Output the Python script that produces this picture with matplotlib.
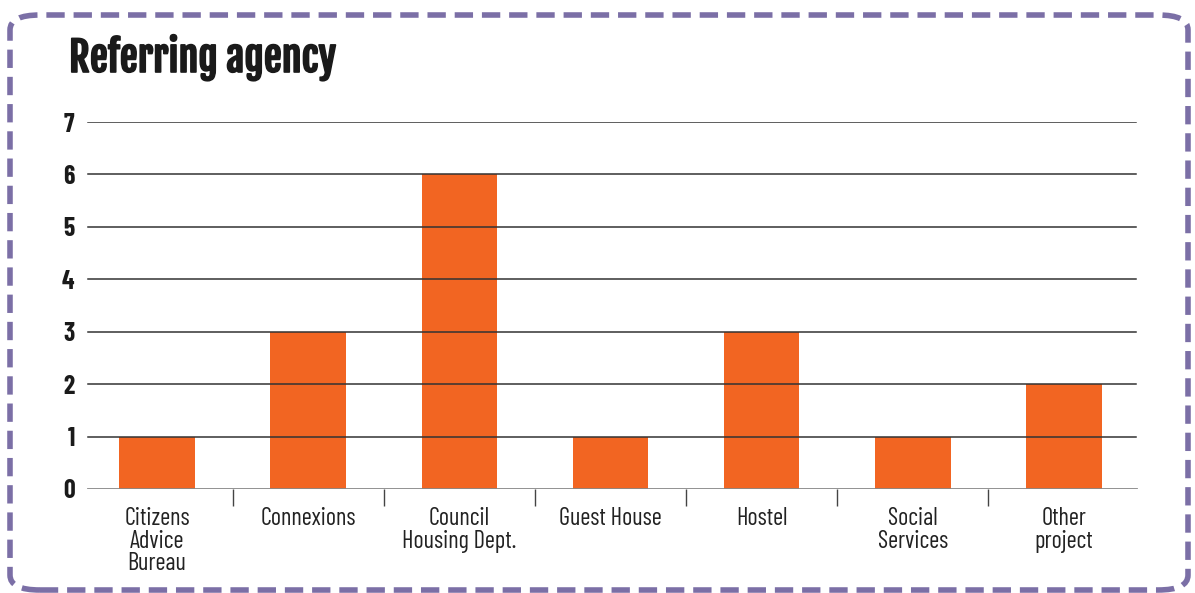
import matplotlib
matplotlib.use("Agg")
import matplotlib.pyplot as plt
import matplotlib.patheffects as pe
from matplotlib.patches import FancyBboxPatch

categories = ["Citizens\nAdvice\nBureau", "Connexions", "Council\nHousing Dept.",
              "Guest House", "Hostel", "Social\nServices", "Other\nproject"]
counts = [1, 3, 6, 1, 3, 1, 2]
yticks = [0, 1, 2, 3, 4, 5, 6, 7]

plt.rcParams["font.family"] = ["Barlow Condensed", "Roboto Condensed", "DejaVu Sans"]
title_font = ["Fjalla One", "Roboto Condensed", "DejaVu Sans"]

bar_color = "#F26522"
border_color = "#7B6FA6"
W, H = 1195, 593

fig = plt.figure(figsize=(W / 100, H / 100), dpi=100)

# dashed rounded frame around the whole panel
frame = FancyBboxPatch((10 / W, 3 / H), 1178 / W, 575 / H,
                       boxstyle="round,pad=0,rounding_size=0.025",
                       transform=fig.transFigure, fill=False,
                       edgecolor=border_color, linewidth=4,
                       linestyle=(0, (3.3, 1.6)), clip_on=False)
fig.patches.append(frame)

fig.text(69 / W, 1 - 72 / H, "Referring agency", fontsize=29, family=title_font,
         color="#1a1a1a", va="baseline", ha="left",
         path_effects=[pe.withStroke(linewidth=1.2, foreground="#1a1a1a")])

left, right = 81.5, 1139.6
ax = fig.add_axes([left / W, 1 - 489 / H, (right - left) / W, 367 / H])
x = range(len(categories))
ax.bar(x, counts, width=0.5, color=bar_color, zorder=1)
ax.set_xlim(-0.5, len(categories) - 0.5)
ax.set_ylim(0, 7)

# gridlines run a little inside the outer category edges
g0 = (88 - left) / (right - left)
g1 = (1136 - left) / (right - left)
for v in yticks[1:]:
    ax.axhline(v, g0, g1, color="#333333", linewidth=1.1, zorder=2)
ax.axhline(0, g0, g1, color="#888888", linewidth=2, zorder=3)

ax.set_yticks(yticks)
ax.set_yticklabels([str(v) for v in yticks], fontsize=18.5, fontweight="bold", color="#1a1a1a")
ax.tick_params(axis="y", length=0, pad=5)

# category labels, with small dividers between categories
ax.set_xticks(list(x))
ax.set_xticklabels(categories, fontsize=17.5, color="#222222", linespacing=0.98)
ax.tick_params(axis="x", length=0, pad=13)
ax.set_xticks([i + 0.5 for i in range(len(categories) - 1)], minor=True)
ax.tick_params(axis="x", which="minor", length=12, width=1, color="#444444", direction="out")

for s in ax.spines.values():
    s.set_visible(False)

fig.savefig("out.png", dpi=100)
